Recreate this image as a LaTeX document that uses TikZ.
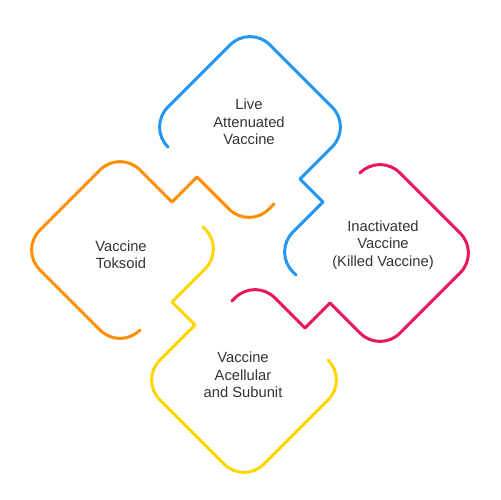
\documentclass[tikz,border=0pt]{standalone}
\usepackage{fontspec}
\setmainfont{Liberation Sans}
\usepackage{tikz}
\usepackage{xcolor}

\definecolor{liveblue}{RGB}{33,150,243}
\definecolor{toxorange}{RGB}{255,143,0}
\definecolor{killedred}{RGB}{233,22,90}
\definecolor{subyellow}{RGB}{255,214,0}
\definecolor{textgray}{RGB}{51,51,51}

\begin{document}
\begin{tikzpicture}[x=0.02cm,y=-0.02cm,
        loopline/.style={line width=0.06cm,line cap=round,line join=round},
        vactext/.style={align=center,text=textgray,font=\fontsize{8.4}{9.9}\selectfont}]
        \useasboundingbox (0,0) rectangle (500,500);

        % Live attenuated (top)
        \draw[loopline,liveblue] (168,147) [rounded corners=0.56cm] -- (148,127) -- (250,25) -- (352,127)
            [sharp corners] -- (300,179) -- (323,202) [rounded corners=0.56cm] -- (273,252) -- (296,275);
        \node[vactext] (live) at (249,122) {Live\\Attenuated\\Vaccine};

        % Toksoid (left)
        \draw[loopline,toxorange] (140,330) [rounded corners=0.56cm] -- (120,350) -- (20,250) -- (120,150)
            [sharp corners] -- (172,202) -- (197,177) [rounded corners=0.56cm] -- (249,229) -- (274,204);
        \node[vactext] (toksoid) at (121,255) {Vaccine\\Toksoid};

        % Inactivated (right)
        \draw[loopline,killedred] (360,173) [rounded corners=0.56cm] -- (380,153) -- (480,253) -- (380,353)
            [sharp corners] -- (330,303) -- (305,328) [rounded corners=0.56cm] -- (255,278) -- (232,301);
        \node[vactext] (killed) at (383,245) {Inactivated\\Vaccine\\(Killed Vaccine)};

        % Acellular and subunit (bottom)
        \draw[loopline,subyellow] (328,360) [rounded corners=0.56cm] -- (348,380) -- (244,484) -- (140,380)
            [sharp corners] -- (195,325) -- (172,302) [rounded corners=0.56cm] -- (225,249) -- (203,227);
        \node[vactext] (subunit) at (243,375) {Vaccine\\Acellular\\and Subunit};
    \end{tikzpicture}
\end{document}
